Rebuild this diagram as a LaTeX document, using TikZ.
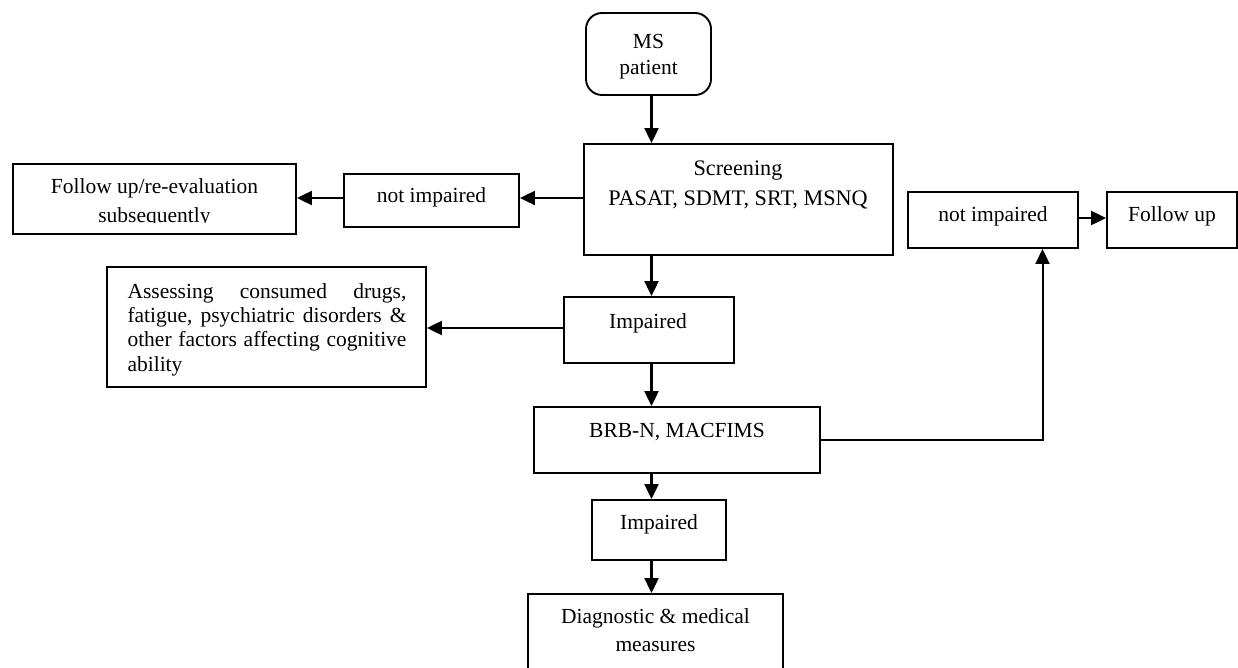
\documentclass[tikz,border=0pt]{standalone}
\usepackage{fontspec}
\setmainfont{Liberation Serif}
\usetikzlibrary{arrows.meta,calc}
\hyphenpenalty=10000
\exhyphenpenalty=10000
\tolerance=9999
\hbadness=10000
\begin{document}
\begin{tikzpicture}[x=1pt,y=-1pt,
  box/.style={draw=black, line width=1.9pt, inner sep=0pt},
  txt/.style={inner sep=0pt, align=center},
  fs/.style={font=\fontsize{21.5}{#1}\selectfont},
  tip/.style={-{Triangle[length=15pt,width=14pt]}},
  arr/.style={line width=2.2pt, tip}]
\clip (0,0) rectangle (1238,668);
\fill[white] (0,0) rectangle (1238,668);
% boxes
\node[box, rounded corners=16pt, minimum width=125pt, minimum height=82pt] (ms) at (648.5,54) {};
\node[box, minimum width=309pt, minimum height=111pt] (scr) at (738.5,199.5) {};
\node[box, minimum width=175pt, minimum height=53pt] (ni1) at (431.5,200.5) {};
\node[box, minimum width=283pt, minimum height=70pt] (fu1) at (154.5,199) {};
\node[box, minimum width=170pt, minimum height=66pt] (imp1) at (649,330) {};
\node[box, minimum width=319pt, minimum height=120pt] (as) at (266.5,327) {};
\node[box, minimum width=286pt, minimum height=66pt] (brb) at (677,440) {};
\node[box, minimum width=170pt, minimum height=56pt] (ni2) at (993,220) {};
\node[box, minimum width=130pt, minimum height=56pt] (fu2) at (1172,220) {};
\node[box, minimum width=134pt, minimum height=60pt] (imp2) at (659,530) {};
\node[box, minimum width=255pt, minimum height=96pt] (dg) at (655.5,642) {};
% texts
\node[txt, fs=26] (msT) at (648.5,57) {MS\\patient};
\node[txt, font=\fontsize{22.2}{30}\selectfont] (scrT) at (738,185) {Screening\\PASAT, SDMT, SRT, MSNQ};
\node[txt, fs=26, anchor=base] (ni1T) at (431.5,203) {not impaired};
\begin{scope}
\clip (fu1.north west) rectangle (296,223);
\node[txt, fs=29] (fu1T) at (154.5,202.5) {Follow up/re-evaluation\\subsequently};
\end{scope}
\node[txt, fs=26, anchor=base] (imp1T) at (648,328) {Impaired};
\node[inner sep=0pt, fs=24.3, text width=279pt, align=justify] (asT) at (267,329.5)
  {\hyphenpenalty=10000 Assessing consumed drugs, \mbox{fatigue,} psychiatric disorders \& other factors affecting cognitive ability};
\node[txt, fs=26, anchor=base] (brbT) at (677,437) {BRB-N, MACFIMS};
\node[txt, fs=26, anchor=base] (ni2T) at (993,222) {not impaired};
\node[txt, fs=26, anchor=base] (fu2T) at (1172,222) {Follow up};
\node[txt, fs=26, anchor=base] (imp2T) at (659,529) {Impaired};
\node[txt, fs=28] (dgT) at (655.5,630) {Diagnostic \& medical\\measures};
% connectors
\coordinate (ax) at (651.5,0);
\coordinate (ay1) at (0,198);
\coordinate (ay2) at (0,328);
\coordinate (ay3) at (0,440);
\coordinate (ay4) at (0,218);
\coordinate (bx) at (1042.5,0);
\draw[arr] (ms.south -| ax) -- (scr.north -| ax);
\draw[arr] (scr.west |- ay1) -- (ni1.east |- ay1);
\draw[arr] (ni1.west |- ay1) -- (fu1.east |- ay1);
\draw[arr] (scr.south -| ax) -- (imp1.north -| ax);
\draw[arr] (imp1.west |- ay2) -- (as.east |- ay2);
\draw[arr] (imp1.south -| ax) -- (brb.north -| ax);
\draw[line width=2pt, tip] (brb.east |- ay3) -| (ni2.south -| bx);
\draw[arr] (ni2.east |- ay4) -- (fu2.west |- ay4);
\draw[arr] (brb.south -| ax) -- (imp2.north -| ax);
\draw[arr] (imp2.south -| ax) -- (dg.north -| ax);
\end{tikzpicture}
\end{document}
